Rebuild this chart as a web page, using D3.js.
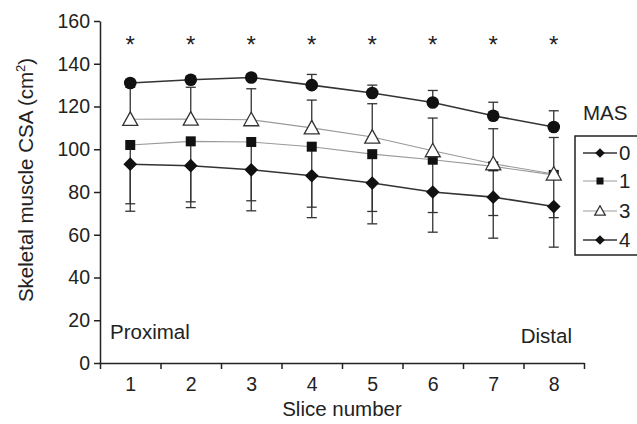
<!DOCTYPE html>
<meta charset="utf-8">
<html lang="en">
<head>
<style>
  body { margin: 0; background: #fff; }
  text { font-family: "Liberation Sans", Arial, sans-serif; fill: #222; }
  .axis path, .axis line { stroke: #222; stroke-width: 1.5; }
  .axis text { font-size: 19.5px; fill: #222; }
</style>
</head>
<body>
<div id="chart"></div>
<script src="https://d3js.org/d3.v7.min.js"></script>
<script>
// slices along the muscle, proximal -> distal
var slices = [1, 2, 3, 4, 5, 6, 7, 8];
var yTicks = [0, 20, 40, 60, 80, 100, 120, 140, 160];

// mean CSA (cm2) per MAS group
var mas0 = [93, 92.3, 90.4, 87.6, 84.2, 80, 77.6, 73.2];
var mas1 = [102, 103.7, 103.4, 101.2, 97.7, 95.1, 92, 88];
var mas3 = [114, 114.1, 113.8, 110, 105.7, 99.3, 93.2, 88.4];
var mas4 = [131, 132.5, 133.6, 130, 126.3, 121.9, 115.7, 110.4];

// one-sided SD bars (down for 0 and 1, up for 3 and 4)
var sd0 = [22, 19.6, 19.2, 19.6, 19.1, 18.8, 19.2, 19];
var sd1 = [27.5, 28.3, 27.5, 28.3, 26.8, 24.7, 23, 20];
var sd3 = [15, 14.9, 14.5, 13, 15.6, 15.3, 16.4, 17.1];
var sd4 = [1.5, 1.5, 1.5, 5, 3.7, 5.6, 6.3, 7.6];

var groups = [
  {name: "0", mean: mas0, sd: sd0, dir: -1, shape: "diamond", line: "#333", lw: 1.6},
  {name: "1", mean: mas1, sd: sd1, dir: -1, shape: "square",  line: "#999", lw: 1.1},
  {name: "3", mean: mas3, sd: sd3, dir: 1,  shape: "triangle", line: "#999", lw: 1.1},
  {name: "4", mean: mas4, sd: sd4, dir: 1,  shape: "circle",  line: "#333", lw: 1.6}
];

var W = 637, H = 424;
var svg = d3.select("#chart").append("svg")
    .attr("width", W).attr("height", H);

var x = d3.scaleLinear().domain([0.5, 8.5]).range([100, 584]);
var y = d3.scaleLinear().domain([0, 160]).range([363, 21]);

// axes
svg.append("g").attr("class", "axis")
    .attr("transform", "translate(100,0)")
    .call(d3.axisLeft(y).tickValues(yTicks).tickSize(6).tickSizeOuter(0).tickPadding(4));

svg.append("g").attr("class", "axis")
    .attr("transform", "translate(0,363)")
    .call(d3.axisBottom(x).tickValues(d3.range(0.5, 9, 1)).tickSize(6).tickSizeOuter(0).tickFormat(""));

svg.append("g").attr("class", "axis")
    .attr("transform", "translate(0,363)")
    .call(d3.axisBottom(x).tickValues(slices).tickSize(0).tickPadding(14).tickFormat(d3.format("d")))
    .select(".domain").remove();

// axis titles
svg.append("text")
    .attr("x", 342).attr("y", 416)
    .attr("text-anchor", "middle")
    .style("font-size", "20.5px")
    .text("Slice number");

var yl = svg.append("text")
    .attr("transform", "translate(33,180) rotate(-90)")
    .attr("text-anchor", "middle")
    .style("font-size", "20.5px");
yl.append("tspan").text("Skeletal muscle CSA (cm");
yl.append("tspan").attr("dy", -8).style("font-size", "13px").text("2");
yl.append("tspan").attr("dy", 8).text(")");

svg.append("text").attr("x", 110).attr("y", 339)
    .style("font-size", "20.5px").text("Proximal");
svg.append("text").attr("x", 572).attr("y", 343)
    .attr("text-anchor", "end")
    .style("font-size", "20.5px").text("Distal");

// significance stars
svg.append("g").selectAll("text")
  .data(slices)
  .enter().append("text")
    .attr("x", function(d) { return x(d); })
    .attr("y", y(145))
    .attr("text-anchor", "middle")
    .style("font-size", "24px")
    .text("*");

// lines
var line = d3.line()
    .x(function(d, i) { return x(slices[i]); })
    .y(function(d) { return y(d); });

groups.forEach(function(g) {
  svg.append("path")
      .datum(g.mean)
      .attr("d", line)
      .attr("fill", "none")
      .attr("stroke", g.line)
      .attr("stroke-width", g.lw);
});

// error bars
groups.forEach(function(g) {
  var eb = svg.append("g").attr("stroke", "#333").attr("stroke-width", 1.3);
  g.mean.forEach(function(m, i) {
    var cx = x(slices[i]), end = m + g.dir * g.sd[i];
    eb.append("line").attr("x1", cx).attr("x2", cx)
        .attr("y1", y(m)).attr("y2", y(end));
    eb.append("line").attr("x1", cx - 5).attr("x2", cx + 5)
        .attr("y1", y(end)).attr("y2", y(end));
  });
});

function marker(sel, shape, s) {
  if (shape === "circle") {
    sel.append("circle").attr("r", 6.3 * s).attr("fill", "#111");
  } else if (shape === "square") {
    sel.append("rect").attr("x", -5 * s).attr("y", -5 * s)
        .attr("width", 10 * s).attr("height", 10 * s).attr("fill", "#111");
  } else if (shape === "diamond") {
    sel.append("path").attr("d", d3.symbol().type(d3.symbolDiamond2).size(120 * s * s))
        .attr("fill", "#111");
  } else {
    var a = 7.5 * s;
    sel.append("path")
        .attr("d", "M0," + (-a) + "L" + a + "," + (a * 0.8) + "L" + (-a) + "," + (a * 0.8) + "Z")
        .attr("fill", "#fff").attr("stroke", "#333").attr("stroke-width", 1.3);
  }
}

// markers
groups.forEach(function(g) {
  g.mean.forEach(function(m, i) {
    var mk = svg.append("g")
        .attr("transform", "translate(" + x(slices[i]) + "," + y(m) + ")");
    marker(mk, g.shape, 1);
  });
});

// legend
svg.append("text").attr("x", 583).attr("y", 120)
    .style("font-size", "20.5px").text("MAS");
svg.append("rect")
    .attr("x", 575).attr("y", 136).attr("width", 80).attr("height", 119)
    .attr("fill", "none").attr("stroke", "#222").attr("stroke-width", 1.5);

var legY = [153, 181, 211, 240];
groups.forEach(function(g, i) {
  var lg = svg.append("g").attr("transform", "translate(0," + legY[i] + ")");
  lg.append("line").attr("x1", 583).attr("x2", 617)
      .attr("stroke", g.line).attr("stroke-width", g.lw);
  var mk = lg.append("g").attr("transform", "translate(600,0)");
  marker(mk, i === 3 ? "diamond" : g.shape, 0.7);
  lg.append("text").attr("x", 619).attr("y", 7)
      .style("font-size", "20.5px").text(g.name);
});
</script>
</body>
</html>
